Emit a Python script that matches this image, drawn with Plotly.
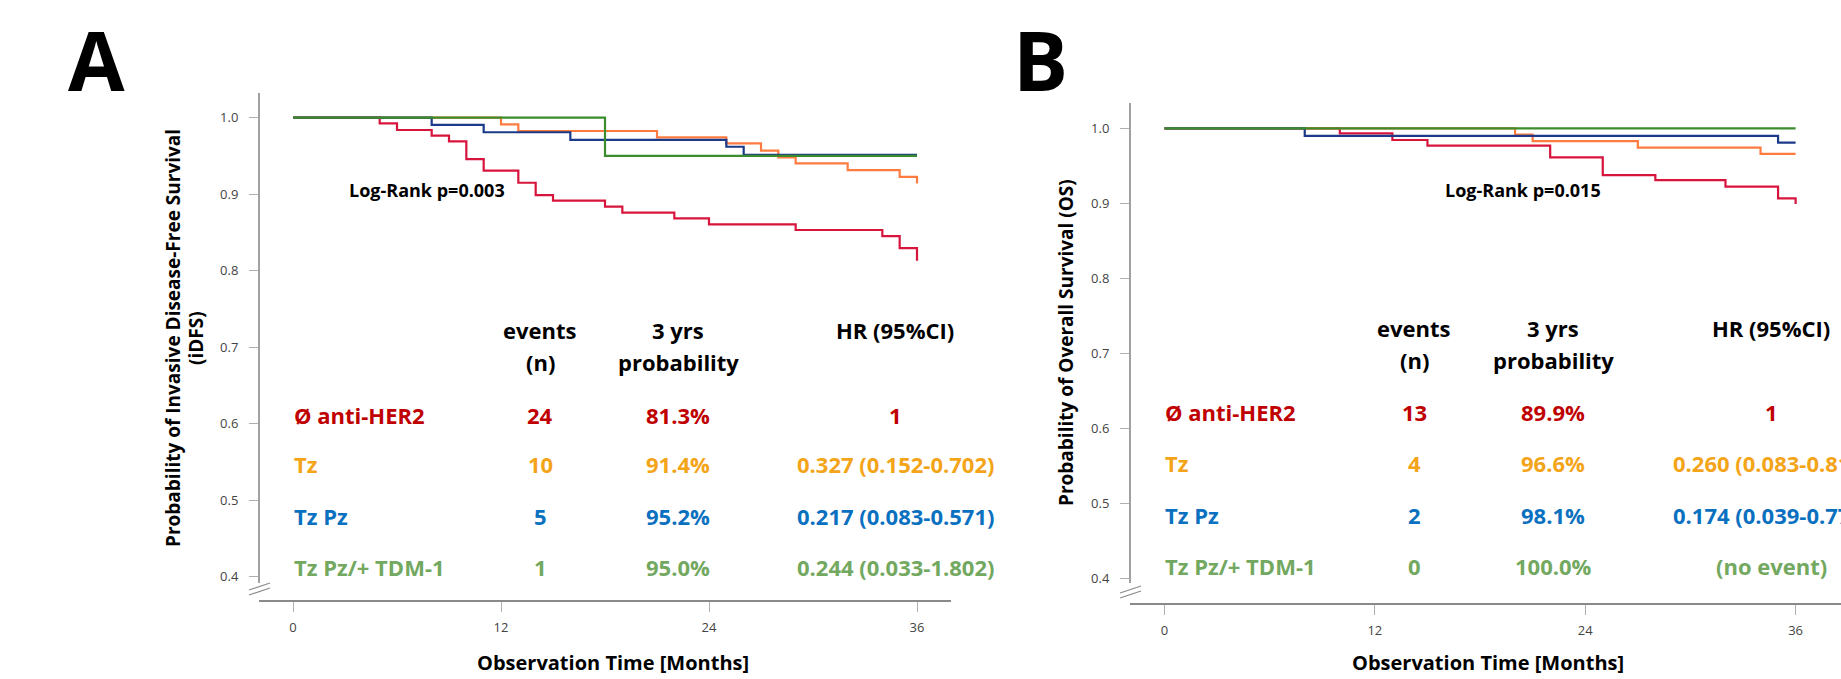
import plotly.graph_objects as go

W, H = 1841, 679

# ---------------- data ----------------
month_ticks = [0, 12, 24, 36]
surv_ticks = [0.4, 0.5, 0.6, 0.7, 0.8, 0.9, 1.0]

groups = ["Ø anti-HER2", "Tz", "Tz Pz", "Tz Pz/+ TDM-1"]

# Panel A - invasive disease-free survival (step curves)
a_red_t = [0, 5, 6, 8, 9, 10, 11, 13, 14, 15, 18, 19, 22, 24, 29, 34, 35, 36]
a_red_s = [1.0, 0.9926, 0.9839, 0.9765, 0.9690, 0.9458, 0.9307, 0.9150, 0.8988, 0.8915,
           0.8837, 0.8758, 0.8684, 0.8606, 0.8532, 0.8453, 0.8296, 0.8130]
a_orange_t = [0, 12, 13, 21, 25, 27, 28, 29, 32, 35, 36]
a_orange_s = [1.0, 0.9913, 0.9826, 0.9743, 0.9665, 0.9570, 0.9480, 0.9404, 0.9316, 0.9227, 0.9140]
a_blue_t = [0, 8, 11, 16, 25, 26, 36]
a_blue_s = [1.0, 0.9907, 0.9810, 0.9709, 0.9620, 0.9515, 0.9515]
a_green_t = [0, 18, 36]
a_green_s = [1.0, 0.9500, 0.9500]

a_events = ["24", "10", "5", "1"]
a_prob3 = ["81.3%", "91.4%", "95.2%", "95.0%"]
a_hr = ["1", "0.327 (0.152-0.702)", "0.217 (0.083-0.571)", "0.244 (0.033-1.802)"]
a_logrank = "Log-Rank p=0.003"

# Panel B - overall survival (step curves)
b_red_t = [0, 10, 13, 15, 22, 25, 28, 32, 35, 36]
b_red_s = [1.0, 0.9933, 0.9844, 0.9770, 0.9613, 0.9377, 0.9310, 0.9222, 0.9067, 0.8990]
b_orange_t = [0, 20, 21, 27, 34, 36]
b_orange_s = [1.0, 0.9915, 0.9830, 0.9742, 0.9660, 0.9660]
b_blue_t = [0, 8, 35, 36]
b_blue_s = [1.0, 0.9900, 0.9810, 0.9810]
b_green_t = [0, 36]
b_green_s = [1.0, 1.0]

b_events = ["13", "4", "2", "0"]
b_prob3 = ["89.9%", "96.6%", "98.1%", "100.0%"]
b_hr = ["1", "0.260 (0.083-0.814)", "0.174 (0.039-0.776)", "(no event)"]
b_logrank = "Log-Rank p=0.015"

# ---------------- styles ----------------
line_colors = ["#D7143C", "#FF7C40", "#1B3A8A", "#3A8C2C"]
text_colors = ["#C00000", "#F4A418", "#0A70C0", "#72A860"]
FONT = "Open Sans"


def px(x):
    return x / W


def py(y):
    return 1 - y / H


fig = go.Figure()

curves_a = [(a_red_t, a_red_s), (a_orange_t, a_orange_s), (a_blue_t, a_blue_s), (a_green_t, a_green_s)]
curves_b = [(b_red_t, b_red_s), (b_orange_t, b_orange_s), (b_blue_t, b_blue_s), (b_green_t, b_green_s)]

for (t, s), c, g in zip(curves_a, line_colors, groups):
    fig.add_trace(go.Scatter(x=t, y=s, mode="lines", name=g, showlegend=False,
                             line=dict(color=c, width=2.2, shape="hv"),
                             xaxis="x", yaxis="y", hoverinfo="skip"))
for (t, s), c, g in zip(curves_b, line_colors, groups):
    fig.add_trace(go.Scatter(x=t, y=s, mode="lines", name=g, showlegend=False,
                             line=dict(color=c, width=2.2, shape="hv"),
                             xaxis="x2", yaxis="y2", hoverinfo="skip"))

# panel geometry (pixels)
panels = {
    "A": dict(x0=259, x1=951, y0=93, y1=600, xz=293, x36=917, y10=117.7, y04=576.7, ybot=583),
    "B": dict(x0=1130, x1=1841, y0=103, y1=603, xz=1164.5, x36=1795.6, y10=128.3, y04=578.3, ybot=583),
}


def ranges(p):
    kx = (p["x36"] - p["xz"]) / 36.0
    xr = [(p["x0"] - p["xz"]) / kx, (p["x1"] - p["xz"]) / kx]
    ky = (p["y04"] - p["y10"]) / 0.6
    yr = [0.4 - (p["y1"] - p["y04"]) / ky, 1.0 + (p["y10"] - p["y0"]) / ky]
    return xr, yr


tickfont = dict(family=FONT, size=13, color="#444444")
layout_axes = {}
for key, (xa, ya) in zip(["A", "B"], [("xaxis", "yaxis"), ("xaxis2", "yaxis2")]):
    p = panels[key]
    xr, yr = ranges(p)
    layout_axes[xa] = dict(domain=[px(p["x0"]), px(p["x1"])], range=xr,
                           anchor="y" if key == "A" else "y2",
                           tickvals=month_ticks, ticks="outside", ticklen=10, tickwidth=1.3,
                           tickcolor="#b0b0b0", showline=True, linecolor="#8a8a8a", linewidth=1.6,
                           showgrid=False, zeroline=False, tickfont=tickfont,
                           ticklabelstandoff=5, fixedrange=True)
    layout_axes[ya] = dict(domain=[py(p["y1"]), py(p["y0"])], range=yr,
                           anchor="x" if key == "A" else "x2",
                           tickvals=surv_ticks, tickformat=".1f", ticks="outside", ticklen=9,
                           tickwidth=1.3, tickcolor="#b0b0b0", showline=False,
                           showgrid=False, zeroline=False, tickfont=tickfont,
                           ticklabelstandoff=8, fixedrange=True)

shapes = []
for key in ["A", "B"]:
    p = panels[key]
    ax = p["x0"]
    # y-axis line (stops above the axis break)
    shapes.append(dict(type="line", xref="paper", yref="paper", x0=px(ax), x1=px(ax),
                       y0=py(p["ybot"]), y1=py(p["y0"]), line=dict(color="#8a8a8a", width=1.6)))
    # axis break marks
    for dy in (0, 5):
        shapes.append(dict(type="line", xref="paper", yref="paper",
                           x0=px(ax - 10), x1=px(ax + 11), y0=py(p["y1"] - 10 + dy),
                           y1=py(p["y1"] - 17 + dy), line=dict(color="#8a8a8a", width=1.2)))

annotations = []


def text(x, y, s, size, color="#000000", xanchor="center", angle=0, yanchor="middle"):
    annotations.append(dict(x=px(x), y=py(y), xref="paper", yref="paper", text="<b>" + s + "</b>",
                            showarrow=False, xanchor=xanchor, yanchor=yanchor, textangle=angle,
                            font=dict(family=FONT, size=size, color=color)))


# panel letters
text(96, 1, "A", 82, yanchor="top")
text(1040, 1, "B", 82, yanchor="top")

# axis titles
text(173, 338, "Probability of Invasive Disease-Free Survival", 19, angle=-90)
text(196, 338, "(iDFS)", 19, angle=-90)
text(1066, 343, "Probability of Overall Survival (OS)", 19, angle=-90)
text(613, 662, "Observation Time [Months]", 20)
text(1488, 662, "Observation Time [Months]", 20)

# log-rank
text(347, 190, a_logrank, 18, xanchor="left")
text(1443, 190, b_logrank, 18, xanchor="left")

# tables
tables = [
    dict(lab=292, ev=540, pr=678, hr=895, h1=330, h2=362, rows=[415, 464, 516, 567],
         events=a_events, prob=a_prob3, hrs=a_hr),
    dict(lab=1163, ev=1414, pr=1553, hr=1771, h1=328, h2=360, rows=[412, 463, 515, 566],
         events=b_events, prob=b_prob3, hrs=b_hr),
]
TS = 22
for tb in tables:
    text(tb["ev"], tb["h1"], "events", TS)
    text(tb["ev"], tb["h2"], "(n)", TS)
    text(tb["pr"], tb["h1"], "3 yrs", TS)
    text(tb["pr"], tb["h2"], "probability", TS)
    text(tb["hr"], tb["h1"], "HR (95%CI)", TS)
    for i, g in enumerate(groups):
        y = tb["rows"][i]
        c = text_colors[i]
        text(tb["lab"], y, g, TS, color=c, xanchor="left")
        text(tb["ev"], y, tb["events"][i], TS, color=c)
        text(tb["pr"], y, tb["prob"][i], TS, color=c)
        text(tb["hr"], y, tb["hrs"][i], TS, color=c)

fig.update_layout(width=W, height=H, autosize=False,
                  margin=dict(l=0, r=0, t=0, b=0, pad=0),
                  paper_bgcolor="white", plot_bgcolor="white",
                  shapes=shapes, annotations=annotations, showlegend=False,
                  **layout_axes)

fig.write_html("out.html", config={"displayModeBar": False},
               post_script="document.body.style.margin='0';document.body.style.overflow='hidden';")
